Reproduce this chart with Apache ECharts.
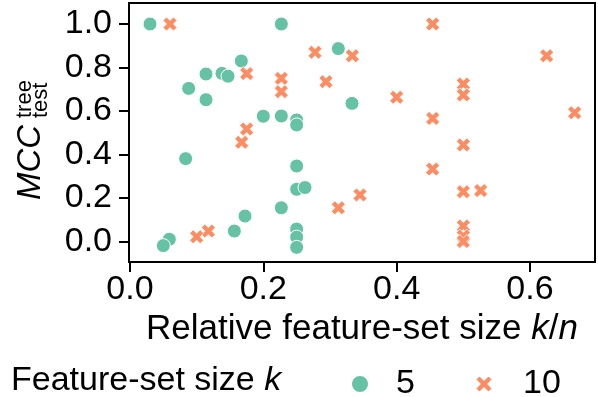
<!DOCTYPE html>
<html>
<head>
<meta charset="utf-8">
<script src="https://cdn.jsdelivr.net/npm/echarts@6/dist/echarts.min.js"></script>
<style>html,body{margin:0;padding:0;background:#fff}#c{width:598px;height:397px}</style>
</head>
<body>
<div id="c"></div>
<script>
// k = 5 series
const k5X = [0.03, 0.227, 0.167, 0.114, 0.138, 0.147, 0.088, 0.114, 0.2, 0.227, 0.3125, 0.333, 0.25, 0.25, 0.0835, 0.25, 0.25, 0.2625, 0.227, 0.1725, 0.1565, 0.059, 0.05, 0.25, 0.25, 0.25];
const k5Y = [1.0, 1.0, 0.83, 0.77, 0.773, 0.76, 0.704, 0.652, 0.576, 0.577, 0.887, 0.635, 0.559, 0.536, 0.381, 0.347, 0.24, 0.248, 0.155, 0.117, 0.048, 0.01, -0.019, 0.057, 0.02, -0.027];
// k = 10 series
const k10X = [0.06, 0.175, 0.175, 0.1675, 0.1175, 0.1, 0.454, 0.2775, 0.3335, 0.227, 0.227, 0.294, 0.4, 0.454, 0.3125, 0.345, 0.454, 0.625, 0.5, 0.5, 0.667, 0.5, 0.5, 0.526, 0.5, 0.5, 0.5];
const k10Y = [1.0, 0.772, 0.517, 0.456, 0.048, 0.022, 1.0, 0.87, 0.854, 0.75, 0.689, 0.735, 0.663, 0.566, 0.155, 0.214, 0.333, 0.854, 0.724, 0.674, 0.592, 0.444, 0.229, 0.234, 0.071, 0.025, 0.0];
const xTicks = [0.0, 0.2, 0.4, 0.6];
const yTicks = [0.0, 0.2, 0.4, 0.6, 0.8, 1.0];
const seriesNames = ['5', '10'];

const FONT = 'Liberation Sans';
const xPath = 'path://M1,0L2,1L3,0L4,1L3,2L4,3L3,4L2,3L1,4L0,3L1,2L0,1Z';
const green = '#66c2a5', orange = '#fc8d62';

const chart = echarts.init(document.getElementById('c'), null, {renderer: 'canvas'});
const tickStyle = {color: '#000', width: 2};
chart.setOption({
  animation: false,
  grid: {left: 129, right: 3, top: 3, bottom: 135, show: true, borderColor: '#000', borderWidth: 2, containLabel: false},
  xAxis: {
    type: 'value', min: -0.0015, max: 0.6975,
    axisLine: {show: true, onZero: false, lineStyle: {color: '#000', width: 2}},
    axisTick: {show: true, length: 10, customValues: xTicks, lineStyle: tickStyle},
    splitLine: {show: false},
    axisLabel: {customValues: xTicks, margin: 11, color: '#000', fontFamily: FONT, fontSize: 34, formatter: v => v.toFixed(1)},
    name: '{n|Relative feature-set size }{i|k}{n|/}{i|n}',
    nameLocation: 'middle', nameGap: 50,
    nameTextStyle: {rich: {
      n: {fontFamily: FONT, fontSize: 35, color: '#000'},
      i: {fontFamily: FONT, fontSize: 35, fontStyle: 'italic', color: '#000'}
    }}
  },
  yAxis: {
    type: 'value', min: -0.0943, max: 1.0966,
    axisLine: {show: true, onZero: false, lineStyle: {color: '#000', width: 2}},
    axisTick: {show: true, length: 10, customValues: yTicks, lineStyle: tickStyle},
    splitLine: {show: false},
    axisLabel: {customValues: yTicks, margin: 17, color: '#000', fontFamily: FONT, fontSize: 34, formatter: v => v.toFixed(1)}
  },
  legend: [
    {data: [seriesNames[0]], left: 345, top: 362, itemWidth: 18, itemHeight: 18, itemGap: 0,
     textStyle: {fontFamily: FONT, fontSize: 34, color: '#000', padding: [0, 0, 0, 22]}},
    {data: [seriesNames[1]], left: 469, top: 362, itemWidth: 18, itemHeight: 18, itemGap: 0,
     textStyle: {fontFamily: FONT, fontSize: 34, color: '#000', padding: [0, 0, 0, 25]}}
  ],
  graphic: [
    {type: 'text', left: 11, top: 364, style: {
      text: '{n|Feature-set size }{i|k}',
      rich: {n: {fontFamily: FONT, fontSize: 34, fill: '#000'}, i: {fontFamily: FONT, fontSize: 34, fontStyle: 'italic', fill: '#000'}}
    }},
    {type: 'group', x: 42, y: 200, rotation: Math.PI / 2, children: [
      {type: 'text', x: 0, y: -11, style: {text: 'MCC', fontFamily: FONT, fontSize: 33, fontStyle: 'italic', fill: '#000', verticalAlign: 'middle', align: 'left'}},
      {type: 'text', x: 82, y: -17, style: {text: 'tree', fontFamily: FONT, fontSize: 22, fill: '#000', verticalAlign: 'middle', align: 'left'}},
      {type: 'text', x: 82, y: -1, style: {text: 'test', fontFamily: FONT, fontSize: 22, fill: '#000', verticalAlign: 'middle', align: 'left'}}
    ]}
  ],
  series: [
    {name: seriesNames[0], type: 'scatter', symbol: 'circle', symbolSize: 14,
     itemStyle: {color: green, borderColor: '#fff', borderWidth: 1, opacity: 1},
     data: k5X.map((x, i) => [x, k5Y[i]])},
    {name: seriesNames[1], type: 'scatter', symbol: xPath, symbolSize: 14,
     itemStyle: {color: orange, borderColor: '#fff', borderWidth: 0.8, opacity: 1},
     data: k10X.map((x, i) => [x, k10Y[i]])}
  ]
});
</script>
</body>
</html>
